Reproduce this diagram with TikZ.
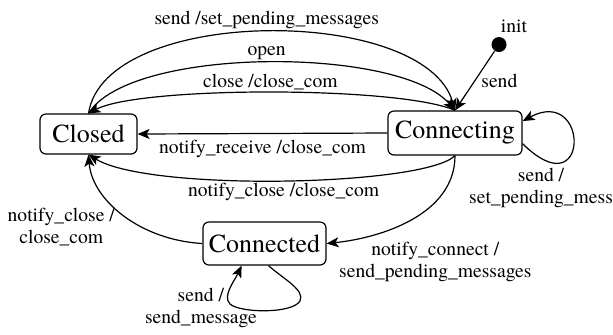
\documentclass[tikz,border=0pt]{standalone}
\usepackage{fontspec}
\setmainfont{TeX Gyre Termes}
\usetikzlibrary{positioning,arrows.meta}

\begin{document}
\begin{tikzpicture}[
        x=0.5pt, y=-0.5pt,
        state/.style={
            rectangle,
            draw,
            rounded corners=3pt,
            line width=0.6pt,
            inner sep=0pt,
            font=\fontsize{13}{15}\selectfont
        },
        trans/.style={
            line width=0.6pt,
            -{Stealth[length=6pt,width=5pt,inset=1.5pt]}
        },
        lbl/.style={
            font=\fontsize{9.8}{11}\selectfont,
            inner sep=1pt,
            align=center
        }
    ]
        \useasboundingbox (0,0) rectangle (613,334);

        \node[state, minimum width=48.5pt, minimum height=20pt]   (closed)     at (88.5,134)    {Closed};
        \node[state, minimum width=67pt, minimum height=22pt]     (connecting) at (455,133)     {Connecting};
        \node[state, minimum width=61.5pt, minimum height=21.5pt] (connected)  at (264.5,243.5) {Connected};
        \node[circle, fill, inner sep=0pt, minimum size=7.5pt]    (init)       at (499,44.5)    {};
        \node[lbl] (initlabel) [above=1pt of init, xshift=7.5pt] {init};

        \draw[trans] (init) -- (connecting.north) node[lbl, midway, right=2pt] {send};

        \draw[trans] (closed.north) .. controls (105,5) and (425,5) .. (connecting.north)
            node[lbl, pos=0.5, above] {send /set\_pending\_messages};
        \draw[trans] (closed.north) .. controls (130,46) and (400,46) .. (connecting.north)
            node[lbl, pos=0.5, above] {open};
        \draw[trans] (connecting.north) .. controls (400,86) and (140,86) .. (closed.north)
            node[lbl, pos=0.5, above] {close /close\_com};

        \draw[trans] (connecting.west) -- (closed.east)
            node[lbl, midway, below=2pt] {notify\_receive /close\_com};
        \draw[trans] (connecting.south) .. controls (425,186) and (150,192) .. (closed.south)
            node[lbl, pos=0.5, below] {notify\_close /close\_com};
        \draw[trans] (connecting.south) .. controls (455,215) and (380,238) .. (connected.east)
            node[lbl, at end, anchor=north west, xshift=5pt, yshift=2pt] {notify\_connect /\\send\_pending\_messages};
        \draw[trans] (connected.west) .. controls (140,240) and (92,200) .. (closed.south)
            node[lbl, pos=0.55, anchor=north east, yshift=2pt] {notify\_close /\\close\_com};

        % self loops
        \draw[trans] (connecting.-9) .. controls (590,210) and (590,85) .. (connecting.10)
            node[lbl, pos=0.3, anchor=north, xshift=-12pt, yshift=-2pt] {send /\\set\_pending\_mess};
        \draw[trans] (connected.-80) .. controls (285,280) and (305,290) .. (300,301)
            .. controls (292,314) and (240,313) .. (230,304)
            .. controls (222,296) and (235,280) .. (connected.-136)
            node[lbl, pos=0.55, anchor=north east, xshift=14pt] {send /\\send\_message};
\end{tikzpicture}
\end{document}
